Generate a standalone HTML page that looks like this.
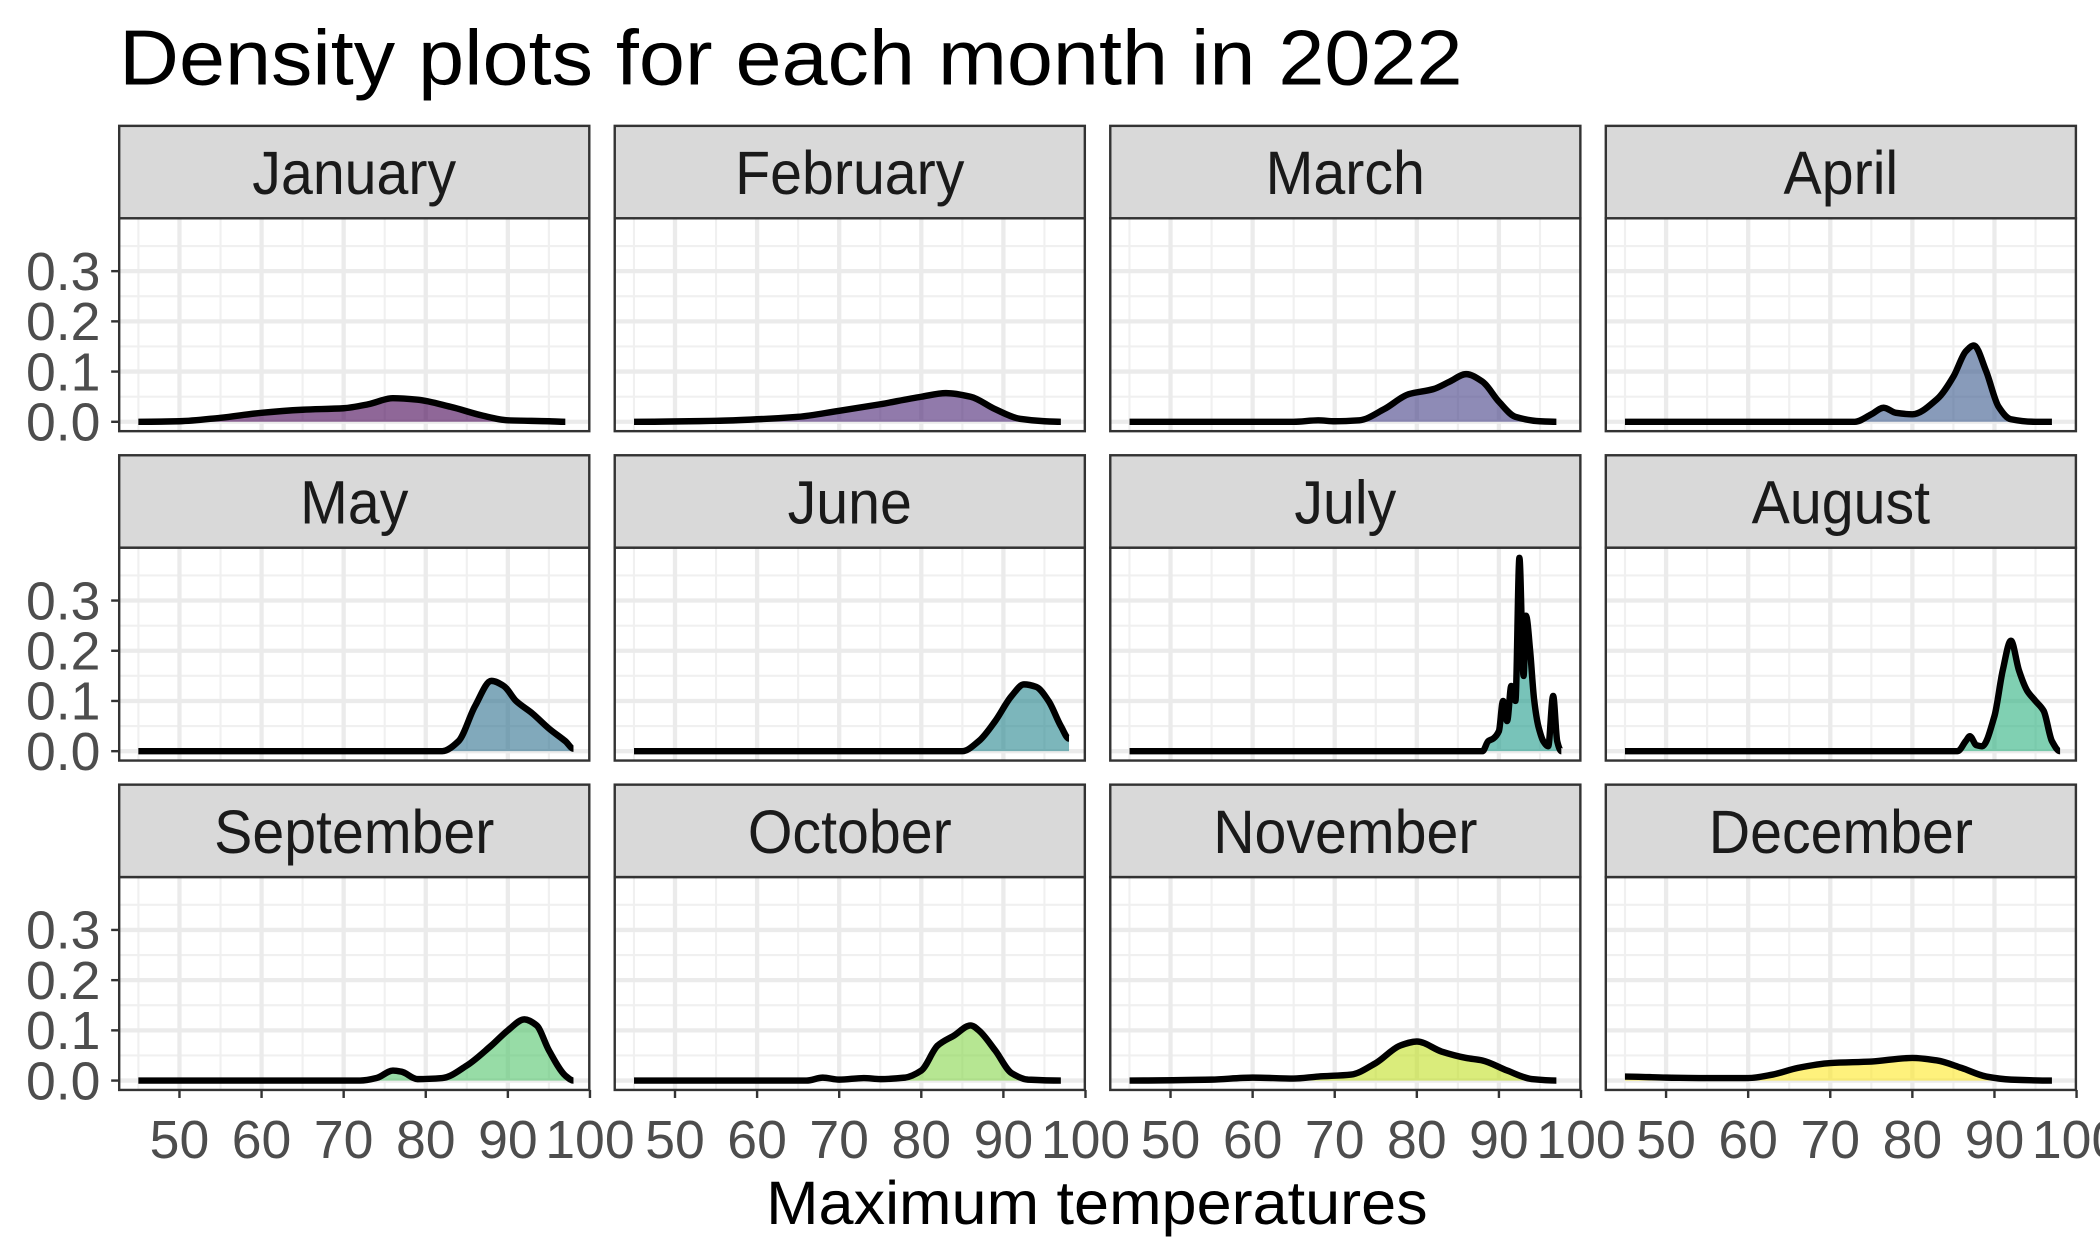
<!DOCTYPE html>
<html><head><meta charset="utf-8"><style>
html,body{margin:0;padding:0;background:#fff;}
svg{display:block;font-family:"Liberation Sans",Arial,sans-serif;}
</style></head><body>
<svg id="chart" width="2100" height="1260" viewBox="0 0 1568 941" preserveAspectRatio="none" xmlns="http://www.w3.org/2000/svg">
<rect width="1568" height="941" fill="#fff"/>
<text x="89" y="63" font-size="58" textLength="1003" lengthAdjust="spacingAndGlyphs" fill="#000">Density plots for each month in 2022</text>
<text x="572" y="914" font-size="46" textLength="494" lengthAdjust="spacingAndGlyphs" fill="#000">Maximum temperatures</text>
<g id="panels"></g>
</svg>
<script>
const months = ["January","February","March","April","May","June","July","August","September","October","November","December"];
const fillColors = ["#440154","#482173","#433E85","#38598C","#2D708E","#25858E","#1E9B8A","#2BB07F","#51C56A","#85D54A","#C2DF23","#FDE725"];
const xTicks = [50,60,70,80,90,100];
const yTicks = [0,0.1,0.2,0.3];
const yTickLabels = ["0.0","0.1","0.2","0.3"];
const janT=[45,50,55,60,65,70,73,76,79,83,87,90,95,97];
const janD=[0,0.001,0.008,0.018,0.024,0.027,0.035,0.047,0.044,0.03,0.012,0.003,0.001,0];
const febT=[45,55,60,65,70,75,80,83,86,89,92,95,97];
const febD=[0,0.002,0.005,0.01,0.022,0.035,0.05,0.057,0.05,0.025,0.006,0.001,0];
const marT=[45,65,68,70,73,76,79,82,84,86,88,90,92,95,97];
const marD=[0,0,0.003,0.001,0.003,0.025,0.055,0.065,0.08,0.095,0.08,0.04,0.01,0.001,0];
const aprT=[45,73,75,76.5,78,80,83,85,86.5,87.5,89,90.5,92,95,97];
const aprD=[0,0,0.015,0.028,0.018,0.015,0.045,0.09,0.14,0.152,0.1,0.03,0.005,0,0];
const mayT=[45,82,84,86,88,89.5,91,93,95,97,98];
const mayD=[0,0,0.02,0.09,0.14,0.13,0.1,0.075,0.045,0.02,0.005];
const junT=[45,85,87,89,91,92.5,94,95.5,97,98];
const junD=[0,0,0.02,0.06,0.11,0.133,0.128,0.1,0.05,0.025];
const julT=[45,88,88.7,89.3,90,90.5,91,91.5,92,92.5,93,93.3,93.8,94.3,94.8,95.4,96,96.6,97.1,97.6];
const julD=[0,0,0.02,0.025,0.04,0.1,0.06,0.13,0.1,0.385,0.15,0.27,0.2,0.1,0.05,0.02,0.01,0.11,0.02,0];
const augT=[45,85.5,86.5,87,87.8,88.5,90,91,92,93,94,95,96,97,98];
const augD=[0,0,0.02,0.03,0.012,0.01,0.07,0.16,0.22,0.16,0.12,0.1,0.08,0.02,0];
const sepT=[45,72,74,76,77,79,82,85,88,90,92,93.5,95,97,98];
const sepD=[0,0,0.005,0.02,0.018,0.003,0.005,0.03,0.07,0.1,0.122,0.11,0.06,0.01,0];
const octT=[45,66,68,70,73,75,78,80,82,84,86,87,89,91,93,97];
const octD=[0,0,0.006,0.002,0.005,0.003,0.006,0.02,0.07,0.09,0.11,0.1,0.06,0.015,0.002,0];
const novT=[45,55,60,65,68,72,75,78,80,83,86,88,91,94,97];
const novD=[0,0.002,0.006,0.004,0.008,0.012,0.035,0.07,0.078,0.058,0.045,0.04,0.02,0.003,0];
const decT=[45,50,55,60,63,66,70,75,80,83,86,89,92,97];
const decD=[0.008,0.006,0.005,0.005,0.012,0.025,0.035,0.038,0.045,0.04,0.025,0.008,0.002,0];
const temps=[janT,febT,marT,aprT,mayT,junT,julT,augT,sepT,octT,novT,decT];
const dens=[janD,febD,marD,aprD,mayD,junD,julD,augD,sepD,octD,novD,decD];

const NS="http://www.w3.org/2000/svg";
const g=document.getElementById("panels");
const colLeft=[89,459,829,1199], PW=351;
const rowTop=[94,340,586], SH=69, PH=159;
function mk(t,a,p){const e=document.createElementNS(NS,t);for(const k in a)e.setAttribute(k,a[k]);(p||g).appendChild(e);return e;}
function xs(left,v){return left+45+(v-50)*6.13;}
function ys(ptop,v){return ptop+152-v*375;}
function smooth(P,base){
  const n=P.length, m=[];
  for(let k=0;k<n;k++){
    if(k===0||k===n-1){m.push(0);continue;}
    const s0=(P[k][1]-P[k-1][1])/(P[k][0]-P[k-1][0]), s1=(P[k+1][1]-P[k][1])/(P[k+1][0]-P[k][0]);
    m.push(s0*s1<=0?0:2/(1/s0+1/s1));
  }
  let d="M"+P[0][0].toFixed(1)+","+P[0][1].toFixed(1);
  for(let k=0;k<n-1;k++){
    const h=(P[k+1][0]-P[k][0])/3;
    const c1x=P[k][0]+h, c1y=Math.min(P[k][1]+m[k]*h,base);
    const c2x=P[k+1][0]-h, c2y=Math.min(P[k+1][1]-m[k+1]*h,base);
    d+=" C"+c1x.toFixed(1)+","+c1y.toFixed(1)+" "+c2x.toFixed(1)+","+c2y.toFixed(1)+" "+P[k+1][0].toFixed(1)+","+P[k+1][1].toFixed(1);
  }
  return d;
}
months.forEach((m,i)=>{
  const r=Math.floor(i/4), c=i%4, L=colLeft[c], ST=rowTop[r], PT=ST+SH;
  const pg=mk("g",{});
  
  
  mk("rect",{x:L,y:PT,width:PW,height:PH,fill:"#fff"},pg);
  for(let v=45;v<=100;v+=10){const x=xs(L,v);if(x>L&&x<L+PW)mk("line",{x1:x,x2:x,y1:PT,y2:PT+PH,stroke:"#f0f0f0","stroke-width":1.6},pg);}
  for(let v=0.05;v<0.41;v+=0.1){const y=ys(PT,v);mk("line",{x1:L,x2:L+PW,y1:y,y2:y,stroke:"#f0f0f0","stroke-width":1.6},pg);}
  xTicks.forEach(v=>{const x=xs(L,v);if(x<L+PW-1)mk("line",{x1:x,x2:x,y1:PT,y2:PT+PH,stroke:"#ebebeb","stroke-width":3.2},pg);});
  yTicks.forEach(v=>{const y=ys(PT,v);mk("line",{x1:L,x2:L+PW,y1:y,y2:y,stroke:"#ebebeb","stroke-width":3.2},pg);});
  const T=temps[i], D=dens[i], base=ys(PT,0);
  const P=T.map((t,k)=>[xs(L,t),ys(PT,D[k])]);
  const dl=smooth(P,base);
  const area=mk("path",{d:dl+" L"+P[P.length-1][0].toFixed(1)+","+base+" L"+P[0][0].toFixed(1)+","+base+" Z",fill:fillColors[i],"fill-opacity":0.6},pg);
  
  
  const line=mk("path",{d:dl,fill:"none",stroke:"#000","stroke-width":4.8,"stroke-linejoin":"round"},pg);
  
  
  mk("rect",{x:L,y:PT,width:PW,height:PH,fill:"none",stroke:"#333","stroke-width":1.8},pg);
  const strip=mk("rect",{x:L,y:ST,width:PW,height:SH,fill:"#d9d9d9",stroke:"#333","stroke-width":1.8},pg);
  
  
  const st=mk("text",{x:L+PW/2,y:ST+51,"font-size":46,"text-anchor":"middle",fill:"#1a1a1a"},pg);
  st.textContent=m;
  
  
  try{const w=st.getComputedTextLength();st.setAttribute('textLength',(w*0.93).toFixed(1));st.setAttribute('lengthAdjust','spacingAndGlyphs');}catch(e){}
  if(c===0){
    yTicks.forEach((v,k)=>{const y=ys(PT,v);
      mk("line",{x1:L-6,x2:L,y1:y,y2:y,stroke:"#333","stroke-width":1.8},pg);
      const t=mk("text",{x:L-14,y:y+14,"font-size":40,"text-anchor":"end",fill:"#4d4d4d"},pg);
      t.textContent=yTickLabels[k];
      
      
    });
  }
  if(r===2){
    xTicks.forEach(v=>{const x=xs(L,v);
      mk("line",{x1:x,x2:x,y1:PT+PH,y2:PT+PH+6,stroke:"#333","stroke-width":1.8},pg);
      const t=mk("text",{x:x,y:PT+PH+51,"font-size":40,"text-anchor":"middle",fill:"#4d4d4d"},pg);
      t.textContent=String(v);
      
      
    });
  }
});
</script>
</body></html>
